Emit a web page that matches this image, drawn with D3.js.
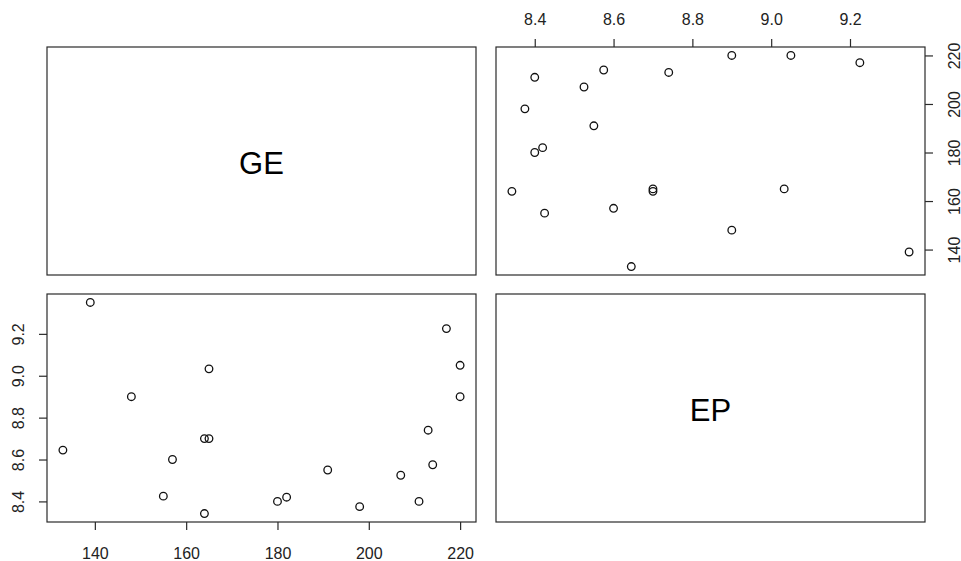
<!DOCTYPE html>
<html>
<head>
<meta charset="utf-8">
<script src="https://cdn.jsdelivr.net/npm/d3@7"></script>
<style>
body { margin: 0; background: #fff; }
text { font-family: "Liberation Sans", Arial, sans-serif; }
</style>
</head>
<body>
<div class="canvas"></div>
<script>
var w = 961;
var h = 561;

// variables shown in the pairs plot
var varNames = ["GE", "EP"];
var ge = [139, 133, 148, 155, 157, 164, 164, 165, 165, 180, 182, 191, 198, 207, 211, 213, 214, 217, 220, 220];
var ep = [9.35, 8.645, 8.9, 8.425, 8.6, 8.342, 8.7, 8.7, 9.033, 8.4, 8.42, 8.55, 8.375, 8.525, 8.4, 8.74, 8.575, 9.225, 9.05, 8.9];
var geTicks = [140, 160, 180, 200, 220];
var epTicks = [8.4, 8.6, 8.8, 9.0, 9.2];

var cols = [47, 496];
var rows = [47, 294];
var pw = 429;
var ph = 228;
var tickLen = 8;

// R style range: extend data by 4% each side
function ext(a) {
    var mn = d3.min(a), mx = d3.max(a);
    var r = mx - mn;
    return [mn - 0.04 * r, mx + 0.04 * r];
}

var svg = d3.select(".canvas").append("svg")
    .attr("width", w)
    .attr("height", h);

var fmtEP = d3.format(".1f");

function panelBox(x, y) {
    svg.append("rect")
        .attr("x", x).attr("y", y)
        .attr("width", pw).attr("height", ph)
        .attr("fill", "none")
        .attr("stroke", "#2a2a2a")
        .attr("stroke-width", 1.2);
}

function styleAxis(g, rotate, dx, dy) {
    g.select(".domain").remove();
    g.selectAll(".tick line").attr("stroke", "#2a2a2a").attr("stroke-width", 1.2);
    g.selectAll(".tick text")
        .attr("x", null).attr("y", null).attr("dy", null)
        .attr("fill", "#222")
        .style("font-size", "16px")
        .attr("text-anchor", "middle")
        .attr("dominant-baseline", "central")
        .attr("transform", "translate(" + dx + "," + dy + ")" + (rotate ? " rotate(-90)" : ""));
}

function points(xs, ys, sx, sy) {
    svg.append("g").selectAll("circle")
        .data(d3.range(xs.length))
        .enter().append("circle")
        .attr("cx", function (i) { return sx(xs[i]); })
        .attr("cy", function (i) { return sy(ys[i]); })
        .attr("r", 3.8)
        .attr("fill", "none")
        .attr("stroke", "#111")
        .attr("stroke-width", 1.3);
}

// diagonal labels
var diag = [[0, 0], [1, 1]];
diag.forEach(function (d, i) {
    var x = cols[d[0]], y = rows[d[1]];
    panelBox(x, y);
    svg.append("text")
        .attr("x", x + pw / 2)
        .attr("y", y + ph / 2 + 2)
        .attr("text-anchor", "middle")
        .attr("dominant-baseline", "central")
        .style("font-size", "31px")
        .attr("fill", "#000")
        .text(varNames[i]);
});

// top right: x = EP, y = GE
var xTR = d3.scaleLinear().domain(ext(ep)).range([cols[1], cols[1] + pw]);
var yTR = d3.scaleLinear().domain(ext(ge)).range([rows[0] + ph, rows[0]]);

panelBox(cols[1], rows[0]);

svg.append("g")
    .attr("transform", "translate(0," + rows[0] + ")")
    .call(d3.axisTop(xTR).tickValues(epTicks).tickFormat(fmtEP).tickSize(tickLen))
    .call(styleAxis, false, 0, -28);

svg.append("g")
    .attr("transform", "translate(" + (cols[1] + pw) + ",0)")
    .call(d3.axisRight(yTR).tickValues(geTicks).tickSize(tickLen))
    .call(styleAxis, true, 29, 0);

points(ep, ge, xTR, yTR);

// bottom left: x = GE, y = EP
var xBL = d3.scaleLinear().domain(ext(ge)).range([cols[0], cols[0] + pw]);
var yBL = d3.scaleLinear().domain(ext(ep)).range([rows[1] + ph, rows[1]]);

panelBox(cols[0], rows[1]);

svg.append("g")
    .attr("transform", "translate(0," + (rows[1] + ph) + ")")
    .call(d3.axisBottom(xBL).tickValues(geTicks).tickSize(tickLen))
    .call(styleAxis, false, 0, 31);

svg.append("g")
    .attr("transform", "translate(" + cols[0] + ",0)")
    .call(d3.axisLeft(yBL).tickValues(epTicks).tickFormat(fmtEP).tickSize(tickLen))
    .call(styleAxis, true, -29, 0);

points(ge, ep, xBL, yBL);
</script>
</body>
</html>
